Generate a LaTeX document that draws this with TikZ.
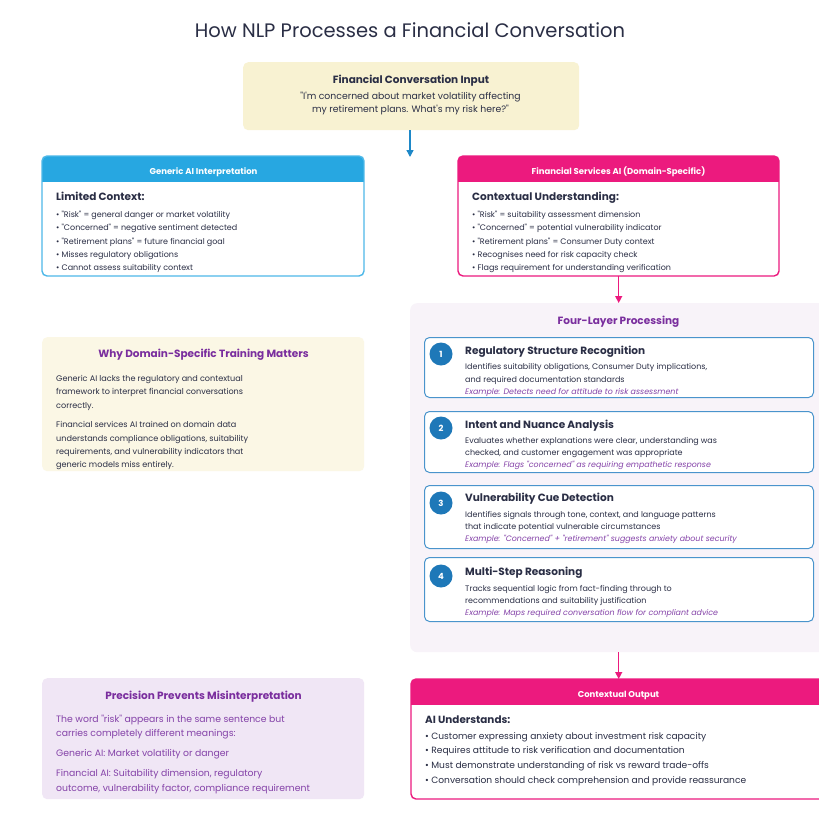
\documentclass[tikz,border=0pt]{standalone}
\usepackage{fontspec}
\setmainfont{Poppins}[Ligatures=TeXOff]
\usetikzlibrary{arrows.meta}
\definecolor{ink}{HTML}{2A2E45}
\definecolor{inyel}{HTML}{F8F2D2}
\definecolor{gblue}{HTML}{27A7E1}
\definecolor{gblueb}{HTML}{4DB8E8}
\definecolor{fpink}{HTML}{EC1A7E}
\definecolor{panel}{HTML}{F8F3F9}
\definecolor{cblue}{HTML}{1E78B8}
\definecolor{lborder}{HTML}{4A94CC}
\definecolor{purp}{HTML}{7A2E9E}
\definecolor{purpt}{HTML}{8442A8}
\definecolor{cream}{HTML}{FBF7E5}
\definecolor{lav}{HTML}{F0E6F5}
\definecolor{arrblue}{HTML}{1E88C8}
\newcommand\fsz[1]{\fontsize{#1}{#1}\selectfont}
\tikzset{
  txt/.style={anchor=base west, inner sep=0pt, text=ink},
  ctxt/.style={anchor=base, inner sep=0pt, text=ink},
  boxshape/.style={anchor=north west, inner sep=0pt, rounded corners=5pt},
  conn/.style={line width=1.4pt, -{Triangle[length=7pt,width=7pt]}},
  numc/.style={circle, fill=cblue, minimum size=23pt, inner sep=0pt, text=white, font=\fsz{8.5}\bfseries},
  bul/.style={txt, font=\fsz{8}},
  sub/.style={txt, font=\fsz{10.5}\bfseries},
  desc/.style={txt, font=\fsz{8}},
  exm/.style={txt, font=\fsz{7.9}\itshape, text=purpt},
}
\begin{document}
\begin{tikzpicture}[x=1pt,y=-1pt]
\useasboundingbox (0,0) rectangle (819,817);
\clip (0,0) rectangle (819,817);
\fill[white] (0,0) rectangle (819,817);

% title
\node[ctxt, font=\fsz{19.5}] (title) at (410,37) {How NLP Processes a Financial Conversation};

% input
\node[boxshape, fill=inyel, minimum width=336pt, minimum height=68pt] (input) at (243,62) {};
\node[ctxt, font=\fsz{10.5}\bfseries] (intitle) at (411,83) {Financial Conversation Input};
\node[ctxt, font=\fsz{9.3}] (inq1) at (410.5,99.5) {"I'm concerned about market volatility affecting};
\node[ctxt, font=\fsz{9.3}] (inq2) at (410.5,112.5) {my retirement plans. What's my risk here?"};
\coordinate (inend) at (410,157);
\draw[conn, arrblue] (input.south -| inend) -- (inend);

% generic box
\node[boxshape, fill=white, minimum width=322pt, minimum height=120pt] (gen) at (42,156) {};
\begin{scope}
\clip[rounded corners=5pt] (42,156) rectangle (364,276);
\fill[gblue] (42,156) rectangle (364,182);
\end{scope}
\draw[gblueb, line width=1.4pt, rounded corners=5pt] (42,156) rectangle (364,276);
\node[ctxt, font=\fsz{8.5}\bfseries, text=white] (genh) at (203.5,174) {Generic AI Interpretation};
\node[sub] (genl) at (56,200) {Limited Context:};
\node[bul] at (56,217) {• "Risk" = general danger or market volatility};
\node[bul] at (56,230) {• "Concerned" = negative sentiment detected};
\node[bul] at (56,244) {• "Retirement plans" = future financial goal};
\node[bul] at (56,257) {• Misses regulatory obligations};
\node[bul] at (56,270) {• Cannot assess suitability context};

% financial box
\node[boxshape, fill=white, minimum width=321pt, minimum height=120pt] (fin) at (458,156) {};
\begin{scope}
\clip[rounded corners=5pt] (458,156) rectangle (779,276);
\fill[fpink] (458,156) rectangle (779,182);
\end{scope}
\draw[fpink, line width=1.4pt, rounded corners=5pt] (458,156) rectangle (779,276);
\node[ctxt, font=\fsz{8.5}\bfseries, text=white] (finh) at (618.5,174) {Financial Services AI (Domain-Specific)};
\node[sub] (finl) at (472,200) {Contextual Understanding:};
\node[bul] at (472,217) {• "Risk" = suitability assessment dimension};
\node[bul] at (472,230) {• "Concerned" = potential vulnerability indicator};
\node[bul] at (472,244) {• "Retirement plans" = Consumer Duty context};
\node[bul] at (472,257) {• Recognises need for risk capacity check};
\node[bul] at (472,270) {• Flags requirement for understanding verification};

% panel
\node[boxshape, fill=panel, minimum width=420pt, minimum height=349pt, rounded corners=7pt] (panel) at (410,303) {};
\draw[conn, fpink] (fin.south) -- (fin.south |- panel.north);
\node[ctxt, font=\fsz{10.5}\bfseries, text=purp] (ptitle) at (618.5,324) {Four-Layer Processing};

% layers
\foreach \n/\yt/\yb in {1/337/397, 2/411/472, 3/485/548, 4/557/621} {
  \node[boxshape, fill=white, draw=lborder, line width=1pt, minimum width=389pt, minimum height={(\yb-\yt)*1pt}] (l\n) at (424,\yt) {};
}
\node[numc] (c1) at (441,354) {1};
\node[sub] (t1) at (465,354) {Regulatory Structure Recognition};
\node[desc] at (465,369) {Identifies suitability obligations, Consumer Duty implications,};
\node[desc] at (465,382) {and required documentation standards};
\node[exm] at (465,394) {Example: Detects need for attitude to risk assessment};

\node[numc] (c2) at (441,428) {2};
\node[sub] (t2) at (465,428) {Intent and Nuance Analysis};
\node[desc] at (465,443) {Evaluates whether explanations were clear, understanding was};
\node[desc] at (465,455) {checked, and customer engagement was appropriate};
\node[exm] at (465,467) {Example: Flags "concerned" as requiring empathetic response};

\node[numc] (c3) at (441,503) {3};
\node[sub] (t3) at (465,501) {Vulnerability Cue Detection};
\node[desc] at (465,517) {Identifies signals through tone, context, and language patterns};
\node[desc] at (465,529) {that indicate potential vulnerable circumstances};
\node[exm] at (465,541) {Example: "Concerned" + "retirement" suggests anxiety about security};

\node[numc] (c4) at (441,576) {4};
\node[sub] (t4) at (465,575) {Multi-Step Reasoning};
\node[desc] at (465,591) {Tracks sequential logic from fact-finding through to};
\node[desc] at (465,603) {recommendations and suitability justification};
\node[exm] at (465,615) {Example: Maps required conversation flow for compliant advice};

% output
\node[boxshape, fill=white, minimum width=420pt, minimum height=120pt] (out) at (411,679) {};
\begin{scope}
\clip[rounded corners=5pt] (411,679) rectangle (831,799);
\fill[fpink] (411,679) rectangle (831,705);
\end{scope}
\draw[fpink, line width=1.4pt, rounded corners=5pt] (411,679) rectangle (831,799);
\draw[conn, fpink] (panel.south -| fin.south) -- (out.north -| fin.south);
\node[ctxt, font=\fsz{8.5}\bfseries, text=white] (outh) at (618.5,697) {Contextual Output};
\node[txt, font=\fsz{10.4}\bfseries] (outl) at (425,723) {AI Understands:};
\node[txt, font=\fsz{9.1}] at (425,739.5) {• Customer expressing anxiety about investment risk capacity};
\node[txt, font=\fsz{9.1}] at (425,753.5) {• Requires attitude to risk verification and documentation};
\node[txt, font=\fsz{9.1}] at (425,768.5) {• Must demonstrate understanding of risk vs reward trade-offs};
\node[txt, font=\fsz{9.1}] at (425,783.5) {• Conversation should check comprehension and provide reassurance};

% why box
\node[boxshape, fill=cream, minimum width=322pt, minimum height=134pt] (why) at (42,337) {};
\node[ctxt, font=\fsz{10.5}\bfseries, text=purp] (whyt) at (203.5,357) {Why Domain-Specific Training Matters};
\node[txt, font=\fsz{8.1}] at (56,381) {Generic AI lacks the regulatory and contextual};
\node[txt, font=\fsz{8.1}] at (56,394) {framework to interpret financial conversations};
\node[txt, font=\fsz{8.1}] at (56,408) {correctly.};
\node[txt, font=\fsz{8.1}] at (56,427) {Financial services AI trained on domain data};
\node[txt, font=\fsz{8.1}] at (56,441) {understands compliance obligations, suitability};
\node[txt, font=\fsz{8.1}] at (56,454) {requirements, and vulnerability indicators that};
\node[txt, font=\fsz{8.1}] at (56,467) {generic models miss entirely.};

% precision box
\node[boxshape, fill=lav, minimum width=322pt, minimum height=121pt] (prec) at (42,678) {};
\node[ctxt, font=\fsz{10.5}\bfseries, text=purp] (prect) at (203.5,699) {Precision Prevents Misinterpretation};
\node[txt, font=\fsz{9.3}, text=purpt] at (56,722.5) {The word "risk" appears in the same sentence but};
\node[txt, font=\fsz{9.3}, text=purpt] at (56,736.5) {carries completely different meanings:};
\node[txt, font=\fsz{9.3}, text=purpt] at (56,756.5) {Generic AI: Market volatility or danger};
\node[txt, font=\fsz{9.3}, text=purpt] at (56,776.5) {Financial AI: Suitability dimension, regulatory};
\node[txt, font=\fsz{9.3}, text=purpt] at (56,791.5) {outcome, vulnerability factor, compliance requirement};
\end{tikzpicture}
\end{document}
